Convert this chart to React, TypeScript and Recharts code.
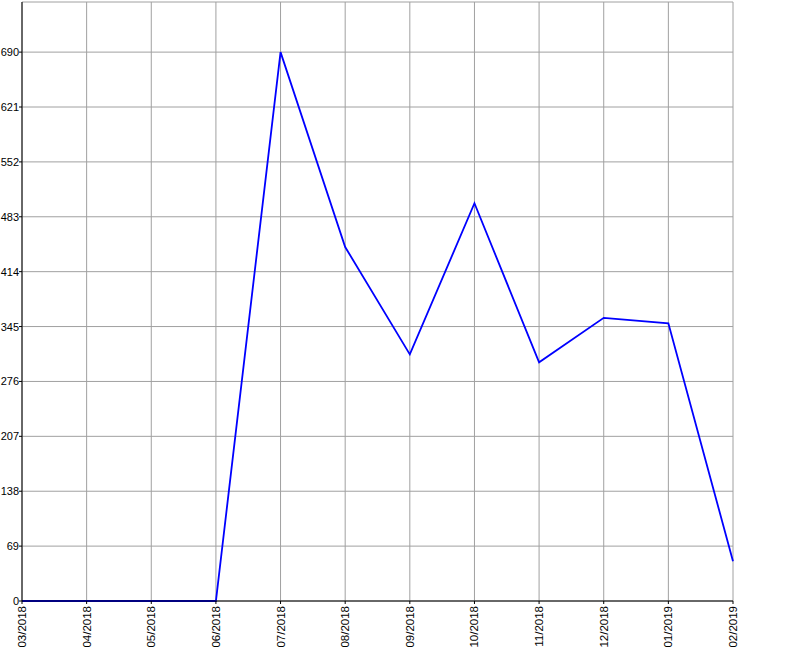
import { LineChart, Line, XAxis, YAxis, CartesianGrid } from 'recharts';

// monthly values
const months = [
  '03/2018', '04/2018', '05/2018', '06/2018', '07/2018', '08/2018',
  '09/2018', '10/2018', '11/2018', '12/2018', '01/2019', '02/2019',
];
const counts = [0, 0, 0, 0, 690, 445, 310, 500, 300, 356, 349, 50];
const yTicks = [0, 69, 138, 207, 276, 345, 414, 483, 552, 621, 690];

const data = months.map((month, i) => ({ month, count: counts[i] }));

const font = '"Liberation Sans", Arial, sans-serif';

const XTick = (props: any) => {
  const { x, y, payload } = props;
  return (
    <text
      x={x}
      y={y + 1}
      transform={`rotate(-90, ${x}, ${y + 1})`}
      textAnchor="end"
      dominantBaseline="central"
      fontSize={11.5}
      fontFamily={font}
      fill="#000"
    >
      {payload.value}
    </text>
  );
};

const YTick = (props: any) => {
  const { x, y, payload } = props;
  return (
    <text
      x={x}
      y={y}
      textAnchor="end"
      dominantBaseline="central"
      fontSize={11}
      fontFamily={font}
      fill="#000"
    >
      {payload.value}
    </text>
  );
};

export default function App() {
  return (
    <div style={{ position: 'absolute', left: 0, top: 0, background: '#fff' }}>
      <LineChart
        width={800}
        height={650}
        data={data}
        margin={{ top: 2, right: 67, bottom: 0, left: 0 }}
      >
        <CartesianGrid stroke="#a0a0a0" strokeWidth={1} />
        <XAxis
          dataKey="month"
          interval={0}
          height={49}
          tick={<XTick />}
          tickSize={3}
          tickMargin={1}
          axisLine={{ stroke: '#000' }}
          tickLine={{ stroke: '#000' }}
        />
        <XAxis
          xAxisId="top"
          dataKey="month"
          orientation="top"
          height={0}
          tick={false}
          tickLine={false}
          axisLine={{ stroke: '#000' }}
        />
        <YAxis
          domain={[0, 753]}
          ticks={yTicks}
          interval={0}
          width={22}
          tick={<YTick />}
          tickSize={3}
          tickMargin={0}
          axisLine={{ stroke: '#000' }}
          tickLine={{ stroke: '#000' }}
        />
        <YAxis
          yAxisId="right"
          orientation="right"
          domain={[0, 753]}
          width={0}
          tick={false}
          tickLine={false}
          axisLine={{ stroke: '#000' }}
        />
        <Line
          type="linear"
          dataKey="count"
          stroke="#0000ff"
          strokeWidth={1.8}
          dot={false}
          activeDot={false}
          isAnimationActive={false}
        />
      </LineChart>
    </div>
  );
}
